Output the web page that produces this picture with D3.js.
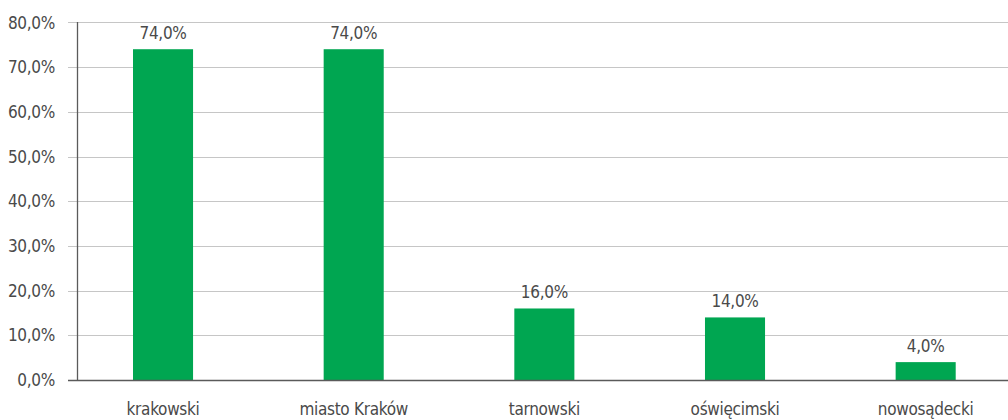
<!DOCTYPE html>
<html><head><meta charset="utf-8">
<script src="https://cdn.jsdelivr.net/npm/d3@7"></script>
<style>
html,body{margin:0;padding:0;background:#fff;}
svg{display:block;}
text{font-family:"Liberation Sans Narrow","DejaVu Sans Condensed",sans-serif;fill:#4a4a4a;letter-spacing:-0.3px;}
</style></head>
<body>
<svg id="c" width="1008" height="420"></svg>
<script>
const categories = ["krakowski","miasto Kraków","tarnowski","oświęcimski","nowosądecki"];
const values = [74.0, 74.0, 16.0, 14.0, 4.0];
const yTicks = [0,10,20,30,40,50,60,70,80];

const fmt = v => v.toFixed(1).replace(".", ",") + "%";
const svg = d3.select("#c");
const y = d3.scaleLinear().domain([0,80]).range([380,22.4]);
const x = d3.scaleBand().domain(categories).range([67.7,1021]).paddingInner(0.685).paddingOuter(0.3425);
const axisX = 77, gridLeft = 68, gridRight = 1008;
const fs = 17;

svg.append("g").selectAll("line").data(yTicks.filter(d=>d>0)).join("line")
  .attr("x1",gridLeft).attr("x2",gridRight)
  .attr("y1",d=>Math.round(y(d))+0.5).attr("y2",d=>Math.round(y(d))+0.5)
  .attr("stroke","#c6c6c6").attr("stroke-width",1);

svg.append("g").selectAll("text").data(yTicks).join("text")
  .attr("x",55).attr("y",d=>y(d)).attr("dy","0.36em")
  .attr("text-anchor","end").attr("font-size",fs).text(fmt);

svg.append("g").selectAll("rect").data(values).join("rect")
  .attr("x",(d,i)=>x(categories[i])).attr("width",x.bandwidth())
  .attr("y",d=>y(d)).attr("height",d=>y(0)-y(d))
  .attr("fill","#00a651");

svg.append("g").selectAll("text").data(values).join("text")
  .attr("x",(d,i)=>x(categories[i])+x.bandwidth()/2).attr("y",d=>y(d)-10)
  .attr("text-anchor","middle").attr("font-size",fs).text(fmt);

svg.append("line").attr("x1",axisX+0.5).attr("x2",axisX+0.5).attr("y1",22).attr("y2",380)
  .attr("stroke","#5a5a5a").attr("stroke-width",1.3);
svg.append("line").attr("x1",gridLeft).attr("x2",gridRight).attr("y1",380.5).attr("y2",380.5)
  .attr("stroke","#5a5a5a").attr("stroke-width",1.3);

svg.append("g").selectAll("text").data(categories).join("text")
  .attr("x",d=>x(d)+x.bandwidth()/2).attr("y",415)
  .attr("text-anchor","middle").attr("font-size",fs).text(d=>d);
</script>
</body></html>
